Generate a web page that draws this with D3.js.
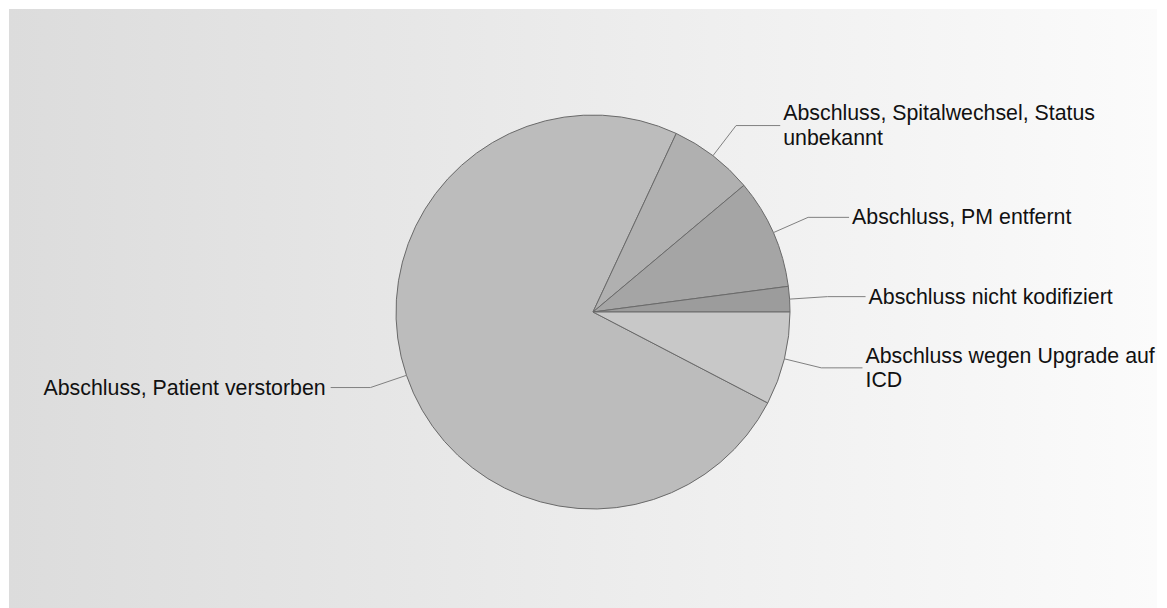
<!DOCTYPE html>
<html>
<head>
<meta charset="utf-8">
<script src="https://cdn.jsdelivr.net/npm/d3@7"></script>
<style>
  html, body { margin: 0; padding: 0; background: #ffffff; }
  svg { display: block; }
</style>
</head>
<body>
<svg id="chart" width="1167" height="608"></svg>
<script>
// ---- data ----
const categories = [
  "Abschluss, Patient verstorben",
  "Abschluss, Spitalwechsel, Status\nunbekannt",
  "Abschluss, PM entfernt",
  "Abschluss nicht kodifiziert",
  "Abschluss wegen Upgrade auf\nICD"
];
const values = [107, 10, 13, 3, 11];
const colors = ["#bcbcbc", "#b0b0b0", "#a5a5a5", "#9c9c9c", "#c8c8c8"];

// ---- layout ----
const W = 1167, H = 608;
const cx = 593, cy = 312, r = 197;
const breakR = 235, labelR = 273;
const fontSize = 21.33, lineH = 24.5;

const svg = d3.select("#chart");
const defs = svg.append("defs");
const grad = defs.append("linearGradient").attr("id", "bg")
  .attr("x1", "0%").attr("x2", "100%").attr("y1", "0%").attr("y2", "0%");
grad.append("stop").attr("offset", "0%").attr("stop-color", "#dcdcdc");
grad.append("stop").attr("offset", "100%").attr("stop-color", "#fbfbfb");

svg.append("rect").attr("x", 9).attr("y", 9).attr("width", 1148).attr("height", H - 9)
  .attr("fill", "url(#bg)");

const data = categories.map((c, i) => ({ name: c, value: values[i], color: colors[i] }));

// first slice ends where the upgrade slice starts (3 o'clock) going round
const total = d3.sum(values);
const offset = 2 * Math.PI * values[4] / total;
const start = Math.PI / 2 + offset;
const pie = d3.pie().value(d => d.value).sort(null)
  .startAngle(start).endAngle(start + 2 * Math.PI);
const arcs = pie(data);
const arc = d3.arc().innerRadius(0).outerRadius(r);

const g = svg.append("g").attr("transform", `translate(${cx},${cy})`);
g.selectAll("path.slice").data(arcs).enter().append("path")
  .attr("class", "slice")
  .attr("d", arc)
  .attr("fill", d => d.data.color)
  .attr("stroke", "#6a6a6a")
  .attr("stroke-width", 1)
  .attr("stroke-linejoin", "round");

// ---- labels ----
arcs.forEach(a => {
  const mid = (a.startAngle + a.endAngle) / 2;
  const sx = Math.sin(mid), sy = -Math.cos(mid);
  const right = sx >= 0;
  const ex = cx + r * sx, ey = cy + r * sy;
  const bx = cx + breakR * sx, by = cy + breakR * sy;
  const lines = a.data.name.split("\n");
  const yFirst = by - (lines.length - 1) * lineH / 2;
  const dy = yFirst - cy;
  const lx = cx + (right ? 1 : -1) * Math.sqrt(Math.max(0, labelR * labelR - dy * dy));

  svg.append("path")
    .attr("d", `M${ex},${ey}L${bx},${by}L${lx},${by}`)
    .attr("fill", "none")
    .attr("stroke", "#808080")
    .attr("stroke-width", 1);

  const t = svg.append("text")
    .attr("x", right ? lx + 3 : lx - 5)
    .attr("text-anchor", right ? "start" : "end")
    .attr("font-family", "Arial, 'Liberation Sans', sans-serif")
    .attr("font-size", fontSize)
    .attr("fill", "#111");
  lines.forEach((ln, i) => {
    t.append("tspan")
      .attr("x", right ? lx + 3 : lx - 5)
      .attr("y", by + 7 + (i - (lines.length - 1) / 2) * lineH)
      .text(ln);
  });
});
</script>
</body>
</html>
